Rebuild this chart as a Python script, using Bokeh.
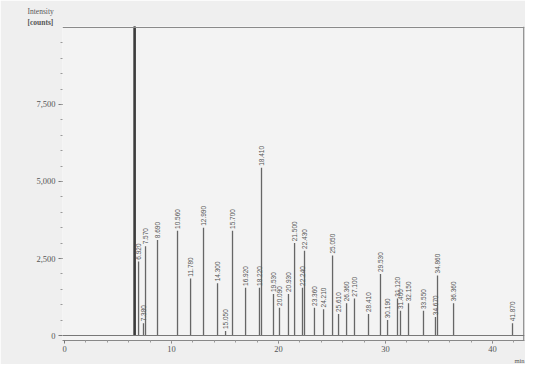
import math
from bokeh.plotting import figure
from bokeh.models import Span, Title, FixedTicker, ColumnDataSource, Range1d, NumeralTickFormatter
from bokeh.core.properties import value
from bokeh.embed import file_html
from bokeh.resources import INLINE

# retention time (min) and peak intensity (counts)
retention_min = [6.55, 6.92, 7.38, 7.57, 8.69, 10.56, 11.78, 12.99, 14.30, 15.05,
                 15.70, 16.92, 18.22, 18.41, 19.53, 20.09, 20.93, 21.50, 22.24, 22.43,
                 23.36, 24.21, 25.05, 25.61, 26.36, 27.10, 28.41, 29.53, 30.19, 31.12,
                 31.40, 32.15, 33.55, 34.67, 34.86, 36.36, 41.87]
intensity = [12000, 2400, 400, 2900, 3100, 3400, 1850, 3500, 1700, 150,
             3400, 1550, 1550, 5450, 1350, 900, 1350, 3000, 1550, 2750,
             900, 850, 2600, 700, 1050, 1200, 700, 2000, 500, 1200,
             800, 1050, 800, 600, 1950, 1050, 400]
x_ticks = [0, 10, 20, 30, 40]
y_ticks = [0, 2500, 5000, 7500]
y_top = 10000

W, H = 525, 364
LEFT, TOP, BOTTOM = 62, 26, 24

src = ColumnDataSource(dict(t=retention_min, h=intensity, zero=[0] * len(intensity)))
on_scale = [(t, v) for t, v in zip(retention_min, intensity) if v < y_top]
lab_src = ColumnDataSource(dict(t=[t for t, v in on_scale],
                                ly=[v + 60 for t, v in on_scale],
                                lab=[f"{t:.3f}" for t, v in on_scale]))

p = figure(width=W, height=H, output_backend="svg", toolbar_location=None, title=None,
           x_range=Range1d(-0.19, 42.99), y_range=Range1d(-162, 10032),
           min_border_left=LEFT, min_border_right=1, min_border_top=TOP, min_border_bottom=BOTTOM)
p.background_fill_color = "#f3f3f3"
p.border_fill_color = "#efefef"
p.outline_line_color = None
p.grid.visible = False

# frame lines (top & right) and signal baseline
p.add_layout(Span(location=y_top, dimension="width", line_color="#8a8a8a", line_width=1.2))
p.add_layout(Span(location=42.99 - 0.06, dimension="height", line_color="#8a8a8a", line_width=1.5))
p.add_layout(Span(location=0, dimension="width", line_color="#777777", line_width=1.2))

# peaks
p.segment(x0="t", y0="zero", x1="t", y1="h", source=src, line_color="#666666", line_width=1.3)
first = ColumnDataSource(dict(t=retention_min[:1], h=intensity[:1], zero=[0]))
p.segment(x0="t", y0="zero", x1="t", y1="h", source=first, line_color="#3c3c3c", line_width=2.6)
p.text(x="t", y="ly", text="lab", source=lab_src, angle=math.pi / 2, text_align="left",
       text_baseline="middle", text_font=value("Liberation Sans"), text_font_size="6.5px",
       text_color="#555555")

# axes
p.xaxis.ticker = FixedTicker(ticks=x_ticks, minor_ticks=list(range(2, 44, 2)))
p.yaxis.ticker = FixedTicker(ticks=y_ticks, minor_ticks=list(range(500, 10000, 500)))
p.yaxis.formatter = NumeralTickFormatter(format="0,0")
for ax in (p.xaxis, p.yaxis):
    ax.major_label_text_font = "Liberation Serif"
    ax.major_label_text_font_size = "8.5px"
    ax.major_label_text_color = "#555555"
    ax.major_tick_line_color = "#777777"
    ax.minor_tick_line_color = "#9a9a9a"
    ax.major_tick_in = 0
    ax.minor_tick_in = 0
    ax.major_label_standoff = 3
p.xaxis.axis_line_color = "#888888"
p.xaxis.major_tick_out = 3
p.xaxis.minor_tick_out = 2
p.xaxis.major_label_standoff = 2
p.yaxis.axis_line_color = None
p.yaxis.major_tick_out = 4
p.yaxis.minor_tick_out = 2

common = dict(text_font="Liberation Serif", text_color="#555555", standoff=0)
p.add_layout(Title(text="[counts]", align="left", offset=-35, text_font_style="bold",
                   text_font_size="7.5px", **common), "above")
p.add_layout(Title(text="Intensity", align="left", offset=-35, text_font_style="normal",
                   text_font_size="7.5px", **common), "above")
p.add_layout(Title(text="min", align="right", offset=0, text_font_style="normal",
                   text_font_size="6.5px", **common), "below")

open("out.html", "w").write(file_html(p, INLINE))
